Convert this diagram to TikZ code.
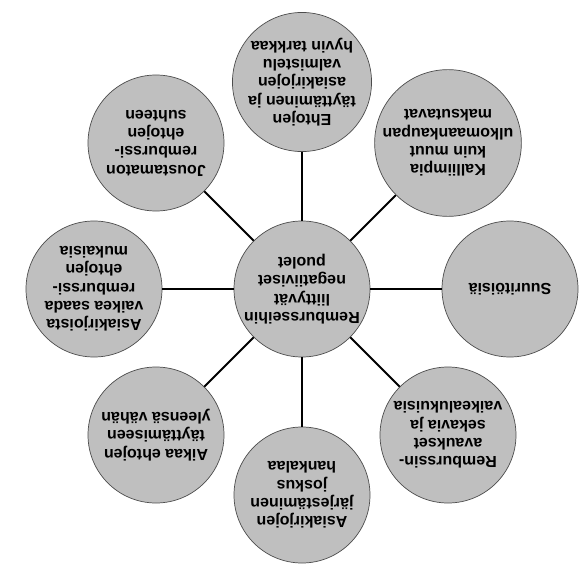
\documentclass[tikz,border=0pt]{standalone}
\usepackage{fontspec}
\setmainfont{Liberation Sans}

\begin{document}
\begin{tikzpicture}[x=1pt,y=1pt,
  bubble/.style={shape=circle,draw=black!70,line width=0.7pt,fill=black!25,
    minimum size=136pt,inner sep=0pt,align=center,rotate=180,
    font=\fontsize{16}{18.3}\selectfont\bfseries},
  spoke/.style={line width=2pt}]
\useasboundingbox (-302,-287) rectangle (278,289);
\node (neg) at (0,0) [bubble] {Rembursseihin\\liittyvät\\negatiiviset\\puolet};
\node (ehdot)   at (0,207)     [bubble] {Ehtojen\\täyttäminen ja\\asiakirjojen\\valmistelu\\hyvin tarkkaa};
\node (kallis)  at (146,146)   [bubble] {Kalliimpia\\kuin muut\\ulkomaankaupan\\maksutavat};
\node (suuri)   at (208,0)     [bubble] {Suuritöisiä};
\node (avaus)   at (146,-146)  [bubble] {Remburssin-\\avaukset\\sekavia ja\\vaikealukuisia};
\node (jarj)    at (0,-206)    [bubble] {Asiakirjojen\\järjestäminen\\joskus\\hankalaa};
\node (aika)    at (-146,-146) [bubble] {Aikaa ehtojen\\täyttämiseen\\yleensä vähän};
\node (vaikea)  at (-208,0)    [bubble] {Asiakirjoista\\vaikea saada\\remburssi-\\ehtojen\\mukaisia};
\node (jousto)  at (-146,146)  [bubble] {Joustamaton\\remburssi-\\ehtojen\\suhteen};
\draw [spoke] (neg) -- (ehdot);
\draw [spoke] (neg) -- (kallis);
\draw [spoke] (neg) -- (suuri);
\draw [spoke] (neg) -- (avaus);
\draw [spoke] (neg) -- (jarj);
\draw [spoke] (neg) -- (aika);
\draw [spoke] (neg) -- (vaikea);
\draw [spoke] (neg) -- (jousto);
\end{tikzpicture}
\end{document}
